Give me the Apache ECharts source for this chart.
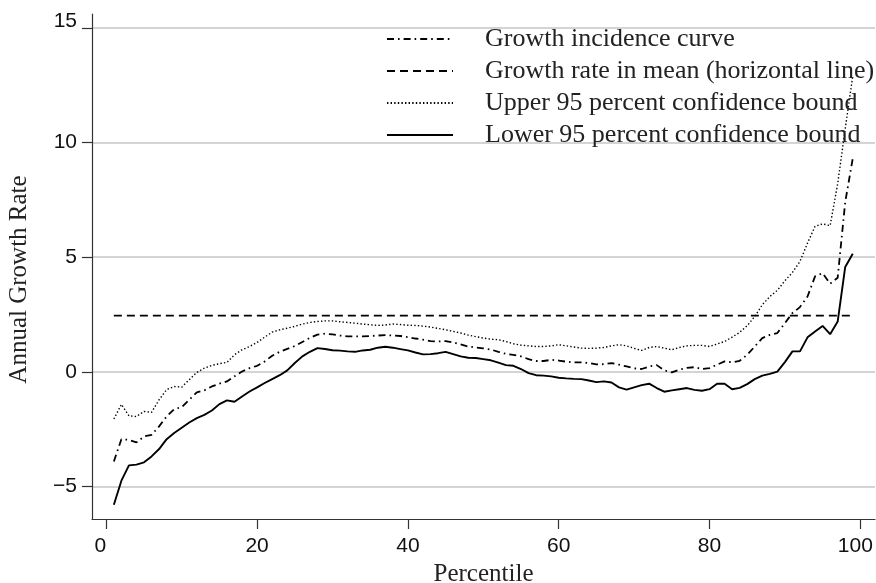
<!DOCTYPE html>
<html>
<head>
<meta charset="utf-8">
<script src="https://cdn.jsdelivr.net/npm/echarts/dist/echarts.min.js"></script>
<style>
  html, body { margin: 0; padding: 0; background: #fff; }
  #chart { width: 876px; height: 583px; }
</style>
</head>
<body>
<div id="chart"></div>
<script>
// Percentiles of the expenditure distribution
const percentiles = [
  1, 2, 3, 4, 5, 6, 7, 8, 9, 10, 11, 12, 13, 14, 15, 16, 17, 18, 19, 20,
  21, 22, 23, 24, 25, 26, 27, 28, 29, 30, 31, 32, 33, 34, 35, 36, 37, 38, 39, 40,
  41, 42, 43, 44, 45, 46, 47, 48, 49, 50, 51, 52, 53, 54, 55, 56, 57, 58, 59, 60,
  61, 62, 63, 64, 65, 66, 67, 68, 69, 70, 71, 72, 73, 74, 75, 76, 77, 78, 79, 80,
  81, 82, 83, 84, 85, 86, 87, 88, 89, 90, 91, 92, 93, 94, 95, 96, 97, 98, 99
];

// Growth incidence curve (annual growth rate, %)
const gic = [
  -3.91, -2.94, -2.97, -3.08, -2.82, -2.75, -2.38, -1.95, -1.63, -1.54,
  -1.22, -0.90, -0.81, -0.64, -0.52, -0.42, -0.20, 0.01, 0.16, 0.26,
  0.45, 0.70, 0.87, 1.00, 1.12, 1.30, 1.48, 1.62, 1.66, 1.63,
  1.58, 1.54, 1.54, 1.54, 1.56, 1.58, 1.60, 1.58, 1.56, 1.51,
  1.45, 1.40, 1.34, 1.32, 1.34, 1.28, 1.19, 1.10, 1.06, 1.02,
  0.97, 0.87, 0.78, 0.74, 0.67, 0.55, 0.47, 0.47, 0.52, 0.49,
  0.44, 0.41, 0.41, 0.38, 0.32, 0.33, 0.38, 0.31, 0.23, 0.15,
  0.12, 0.23, 0.29, 0.06, -0.03, 0.09, 0.17, 0.20, 0.12, 0.16,
  0.31, 0.45, 0.41, 0.48, 0.74, 1.10, 1.47, 1.61, 1.69, 2.12,
  2.56, 2.82, 3.28, 4.16, 4.30, 3.84, 4.10, 7.40, 9.30
];

// Upper 95 percent confidence bound
const upper = [
  -2.06, -1.42, -1.92, -1.95, -1.73, -1.77, -1.22, -0.78, -0.64, -0.67,
  -0.35, -0.03, 0.16, 0.28, 0.35, 0.41, 0.74, 0.96, 1.10, 1.28,
  1.51, 1.73, 1.83, 1.90, 1.98, 2.08, 2.15, 2.19, 2.22, 2.22,
  2.18, 2.15, 2.12, 2.08, 2.05, 2.02, 2.04, 2.08, 2.06, 2.03,
  2.02, 1.99, 1.95, 1.89, 1.83, 1.76, 1.69, 1.60, 1.53, 1.47,
  1.42, 1.40, 1.32, 1.22, 1.16, 1.13, 1.10, 1.10, 1.13, 1.18,
  1.13, 1.08, 1.03, 1.02, 1.03, 1.06, 1.13, 1.18, 1.13, 1.02,
  0.93, 1.06, 1.10, 1.03, 0.96, 1.06, 1.13, 1.15, 1.15, 1.10,
  1.21, 1.32, 1.51, 1.72, 2.01, 2.41, 2.92, 3.28, 3.55, 3.97,
  4.33, 4.81, 5.61, 6.34, 6.45, 6.37, 8.20, 10.60, 12.90
];

// Lower 95 percent confidence bound
const lower = [
  -5.80, -4.75, -4.08, -4.05, -3.95, -3.69, -3.37, -2.94, -2.67, -2.44,
  -2.21, -2.02, -1.88, -1.69, -1.41, -1.25, -1.31, -1.08, -0.86, -0.68,
  -0.49, -0.32, -0.15, 0.06, 0.38, 0.67, 0.87, 1.03, 0.99, 0.94,
  0.92, 0.89, 0.87, 0.93, 0.96, 1.05, 1.09, 1.05, 0.99, 0.93,
  0.84, 0.76, 0.77, 0.81, 0.87, 0.77, 0.67, 0.61, 0.60, 0.55,
  0.50, 0.40, 0.29, 0.26, 0.12, -0.06, -0.15, -0.17, -0.20, -0.26,
  -0.29, -0.31, -0.32, -0.38, -0.45, -0.42, -0.47, -0.68, -0.78, -0.68,
  -0.58, -0.52, -0.71, -0.87, -0.81, -0.76, -0.71, -0.79, -0.83, -0.76,
  -0.52, -0.52, -0.76, -0.70, -0.54, -0.32, -0.17, -0.09, 0.01, 0.42,
  0.89, 0.89, 1.50, 1.76, 2.00, 1.64, 2.19, 4.57, 5.15
];

// Growth rate in mean, drawn across the percentile range
const meanGrowth = 2.45;
const meanSpan = [1, 99];

// Axis ticks
const xTicks = [0, 20, 40, 60, 80, 100];
const yTicks = [-5, 0, 5, 10, 15];

const seriesNames = [
  'Growth incidence curve',
  'Growth rate in mean (horizontal line)',
  'Upper 95 percent confidence bound',
  'Lower 95 percent confidence bound'
];

const pairs = (vals) => percentiles.map((p, i) => [p, vals[i]]);

const serif = '"Liberation Serif", "Times New Roman", serif';
const sans = '"Liberation Sans", Arial, sans-serif';
const ink = '#000';
const axisInk = '#333';

const chart = echarts.init(document.getElementById('chart'), null, { renderer: 'canvas' });

chart.setOption({
  animation: false,
  backgroundColor: '#fff',
  grid: { left: 92, right: 1, top: 14, bottom: 64, containLabel: false, outerBoundsMode: 'none' },
  legend: {
    orient: 'vertical',
    left: 386,
    top: 23,
    padding: 0,
    itemWidth: 66,
    itemHeight: 14,
    itemGap: 0,
    selectedMode: false,
    data: seriesNames,
    // key shows the line pattern only, no marker
    itemStyle: { opacity: 0 },
    textStyle: {
      fontFamily: serif,
      fontSize: 26,
      color: '#222',
      lineHeight: 32,
      padding: [0, 0, 0, 27]
    }
  },
  xAxis: {
    type: 'value',
    min: -1.9,
    max: 101.95,
    name: 'Percentile',
    nameLocation: 'middle',
    nameGap: 38,
    nameTextStyle: { fontFamily: serif, fontSize: 25, color: '#222' },
    axisLine: { show: true, onZero: false, lineStyle: { color: axisInk, width: 1.2 } },
    axisTick: { show: true, inside: false, length: 10, customValues: xTicks, lineStyle: { color: axisInk, width: 1.2 } },
    axisLabel: {
      customValues: xTicks,
      margin: 17,
      fontFamily: sans,
      fontSize: 21,
      color: '#111',
      formatter: (v) => v === 0 ? '{l0|0}' : (v === 100 ? '{l1|100}' : String(v)),
      rich: {
        l0: { fontFamily: sans, fontSize: 21, color: '#111', padding: [0, 12, 0, 0] },
        l1: { fontFamily: sans, fontSize: 21, color: '#111', padding: [0, 10, 0, 0] }
      }
    },
    splitLine: { show: false }
  },
  yAxis: {
    type: 'value',
    min: -6.42,
    max: 15.6,
    name: 'Annual Growth Rate',
    nameLocation: 'middle',
    nameRotate: 90,
    nameGap: 60,
    nameTextStyle: { fontFamily: serif, fontSize: 25, color: '#222', padding: [0, 26, 0, 0] },
    axisLine: { show: true, onZero: false, lineStyle: { color: axisInk, width: 1.2 } },
    axisTick: { show: true, inside: false, length: 10, customValues: yTicks, lineStyle: { color: axisInk, width: 1.2 } },
    axisLabel: {
      customValues: yTicks,
      margin: 15,
      fontFamily: sans,
      fontSize: 21,
      color: '#111',
      formatter: (v) => v === 15 ? '{up|15}' : String(v).replace('-', '\u2212'),
      rich: {
        up: { fontFamily: sans, fontSize: 21, color: '#111', padding: [0, 0, 14, 0] }
      }
    },
    splitLine: { show: true, lineStyle: { color: '#c6c6c6', width: 1.5 } }
  },
  series: [
    {
      name: seriesNames[0],
      type: 'line',
      data: pairs(gic),
      symbol: 'none',
      smooth: false,
      lineStyle: { color: ink, width: 1.8, type: [7, 4, 1.6, 4] },
      itemStyle: { color: ink },
      z: 4
    },
    {
      name: seriesNames[1],
      type: 'line',
      data: meanSpan.map((p) => [p, meanGrowth]),
      symbol: 'none',
      lineStyle: { color: ink, width: 1.8, type: [8, 5] },
      itemStyle: { color: ink },
      z: 3
    },
    {
      name: seriesNames[2],
      type: 'line',
      data: pairs(upper),
      symbol: 'none',
      smooth: false,
      lineStyle: { color: ink, width: 1.4, type: [1.4, 2.2] },
      itemStyle: { color: ink },
      z: 3
    },
    {
      name: seriesNames[3],
      type: 'line',
      data: pairs(lower),
      symbol: 'none',
      smooth: false,
      lineStyle: { color: ink, width: 1.9, type: 'solid' },
      itemStyle: { color: ink },
      z: 5
    }
  ]
});
</script>
</body>
</html>
